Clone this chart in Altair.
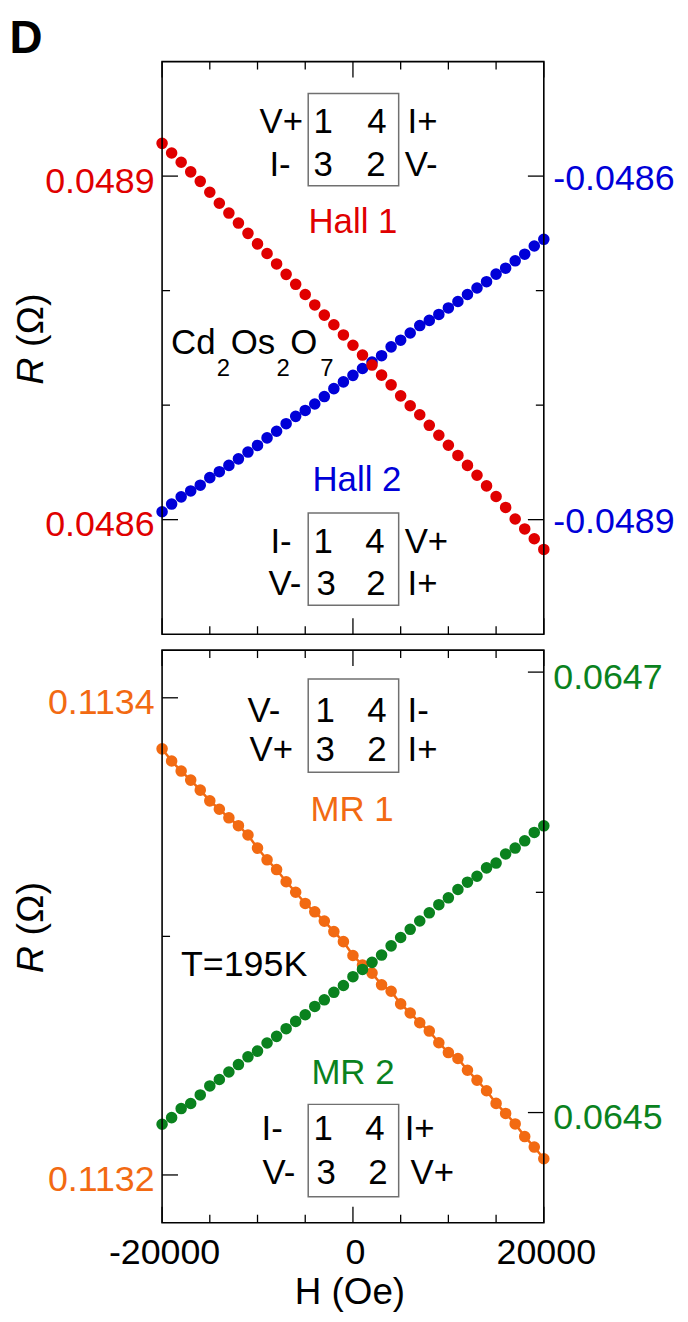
import altair as alt
import pandas as pd

# ---------------- data ----------------
H_OE = [-20000, -19000, -18000, -17000, -16000, -15000, -14000, -13000, -12000, -11000,
        -10000, -9000, -8000, -7000, -6000, -5000, -4000, -3000, -2000, -1000,
        0, 1000, 2000, 3000, 4000, 5000, 6000, 7000, 8000, 9000,
        10000, 11000, 12000, 13000, 14000, 15000, 16000, 17000, 18000, 19000, 20000]

HALL1 = [0.0489286, 0.0489202, 0.0489121, 0.0489037, 0.0488954, 0.0488859, 0.0488763,
         0.0488677, 0.0488590, 0.0488500, 0.0488408, 0.0488324, 0.0488233, 0.0488142,
         0.0488055, 0.0487966, 0.0487875, 0.0487786, 0.0487702, 0.0487613, 0.0487523,
         0.0487437, 0.0487350, 0.0487262, 0.0487177, 0.0487081, 0.0486995, 0.0486916,
         0.0486824, 0.0486737, 0.0486650, 0.0486561, 0.0486474, 0.0486388, 0.0486295,
         0.0486202, 0.0486107, 0.0486006, 0.0485919, 0.0485833, 0.0485740]

HALL2 = [-0.0488931, -0.0488864, -0.0488801, -0.0488749, -0.0488699, -0.0488633, -0.0488581,
         -0.0488526, -0.0488469, -0.0488410, -0.0488352, -0.0488286, -0.0488228, -0.0488162,
         -0.0488098, -0.0488046, -0.0487990, -0.0487925, -0.0487856, -0.0487797, -0.0487740,
         -0.0487680, -0.0487624, -0.0487568, -0.0487491, -0.0487433, -0.0487370, -0.0487305,
         -0.0487260, -0.0487208, -0.0487151, -0.0487095, -0.0487034, -0.0486977, -0.0486922,
         -0.0486856, -0.0486804, -0.0486740, -0.0486682, -0.0486610, -0.0486552]

MR1 = [0.1133786, 0.1133735, 0.1133693, 0.1133655, 0.1133613, 0.1133568, 0.1133533,
       0.1133497, 0.1133464, 0.1133425, 0.1133370, 0.1133321, 0.1133280, 0.1133229,
       0.1133185, 0.1133138, 0.1133103, 0.1133064, 0.1133020, 0.1132978, 0.1132920,
       0.1132880, 0.1132846, 0.1132797, 0.1132770, 0.1132717, 0.1132679, 0.1132638,
       0.1132603, 0.1132554, 0.1132513, 0.1132488, 0.1132439, 0.1132397, 0.1132353,
       0.1132300, 0.1132258, 0.1132214, 0.1132161, 0.1132117, 0.1132068]

MR2 = [0.0644947, 0.0644977, 0.0645018, 0.0645041, 0.0645080, 0.0645121, 0.0645150,
       0.0645184, 0.0645218, 0.0645253, 0.0645279, 0.0645316, 0.0645346, 0.0645381,
       0.0645414, 0.0645444, 0.0645482, 0.0645512, 0.0645546, 0.0645577, 0.0645617,
       0.0645650, 0.0645682, 0.0645715, 0.0645757, 0.0645795, 0.0645832, 0.0645870,
       0.0645907, 0.0645944, 0.0645975, 0.0646013, 0.0646046, 0.0646073, 0.0646111,
       0.0646133, 0.0646174, 0.0646201, 0.0646234, 0.0646272, 0.0646302]

SERIES_NAMES = ["Hall 1", "Hall 2", "MR 1", "MR 2"]
X_DOMAIN = [-20000, 20000]
X_MAJOR = [-20000, 0, 20000]
X_MINOR = [-15000, -10000, -5000, 5000, 10000, 15000]

HALL1_DOMAIN = [0.0485, 0.0490]
HALL1_MAJOR = [0.0486, 0.0489]
HALL1_MINOR = [0.0487, 0.0488]
HALL2_DOMAIN = [-0.0490, -0.0485]
HALL2_MAJOR = [-0.0489, -0.0486]
HALL2_MINOR = [-0.0488, -0.0487]
MR1_DOMAIN = [0.11318, 0.11342]
MR1_MAJOR = [0.1132, 0.1134]
MR1_MINOR = [0.1133]
MR2_DOMAIN = [0.06445, 0.06471]
MR2_MAJOR = [0.0645, 0.0647]
MR2_MINOR = [0.0646]

HALL1_BOX = [["V+", "1", "4", "I+"], ["I-", "3", "2", "V-"]]
HALL2_BOX = [["I-", "1", "4", "V+"], ["V-", "3", "2", "I+"]]
MR1_BOX = [["V-", "1", "4", "I-"], ["V+", "3", "2", "I+"]]
MR2_BOX = [["I-", "1", "4", "I+"], ["V-", "3", "2", "V+"]]

FORMULA = [("Cd", False), ("2", True), ("Os", False), ("2", True), ("O", False), ("7", True)]
TEMP_LABEL = "T=195K"
PANEL_LETTER = "D"
Y_TITLE = ("R", "(Ω)")
X_TITLE = "H (Oe)"

assert all(len(s) == len(H_OE) for s in (HALL1, HALL2, MR1, MR2))

# ---------------- styles / layout ----------------
RED = "#e00000"
BLUE = "#0000d8"
ORANGE = "#f26a12"
GREEN = "#0a821e"
FONT = "Liberation Sans"
W, HT = 384, 576
DOT = 135
BOX_FONT = 35
TICK_MAJ, TICK_MIN = 16, 8
MINUS = "\u2212"


def x_enc(show):
    if show:
        ax = alt.Axis(values=X_MAJOR, format="d",
                      labelExpr=f"replace(datum.label, '{MINUS}', '-')",
                      ticks=False, tickSize=0, domain=False, grid=False,
                      labelFontSize=36, labelFont=FONT, labelColor="black",
                      labelPadding=13, labelOffset=2, labelFlush=False,
                      labelOverlap=False, title=None)
    else:
        ax = None
    return alt.X("H:Q", scale=alt.Scale(domain=X_DOMAIN, nice=False, zero=False), axis=ax)


def y_enc(domain, orient, major, color, pad, offset):
    ax = alt.Axis(orient=orient, values=major, format=".4f",
                  labelExpr=f"replace(datum.label, '{MINUS}', '-')",
                  ticks=False, tickSize=0, domain=False, grid=False,
                  labelFontSize=36, labelFont=FONT, labelColor=color,
                  labelPadding=pad, labelOffset=offset, labelFlush=False,
                  labelOverlap=False, title=None)
    return alt.Y("R:Q", scale=alt.Scale(domain=domain, nice=False, zero=False), axis=ax)


def side(values, color, domain, major, minor, orient, xe, offset, with_line=False):
    ye = y_enc(domain, orient, major, color, 8 if orient == "left" else 9, offset)
    df = pd.DataFrame({"H": H_OE, "R": values})
    layers = []
    if with_line:
        layers.append(alt.Chart(df).mark_line(color=color, strokeWidth=2.5).encode(x=xe, y=ye))
    layers.append(alt.Chart(df).mark_circle(size=DOT, opacity=1, color=color).encode(x=xe, y=ye))
    for vals, ln in ((major, TICK_MAJ), (minor, TICK_MIN)):
        if orient == "left":
            x0, x1 = 0, ln
        else:
            x0, x1 = W - ln, W
        layers.append(alt.Chart(pd.DataFrame({"R": vals})).mark_rule(color="black", strokeWidth=1.3)
                      .encode(y=ye, x=alt.value(x0), x2=alt.value(x1)))
    return alt.layer(*layers)


def xticks(xe):
    layers = []
    for vals, ln in ((X_MAJOR, TICK_MAJ), (X_MINOR, TICK_MIN)):
        d = pd.DataFrame({"H": vals})
        layers.append(alt.Chart(d).mark_rule(color="black", strokeWidth=1.3)
                      .encode(x=xe, y=alt.value(0), y2=alt.value(ln)))
        layers.append(alt.Chart(d).mark_rule(color="black", strokeWidth=1.3)
                      .encode(x=xe, y=alt.value(HT), y2=alt.value(HT - ln)))
    return layers


def txt(label, x, y, size, color="black", align="left", style="normal",
        weight="normal", angle=0, opacity=1):
    return (alt.Chart(pd.DataFrame({"label": [label]}))
            .mark_text(x=x, y=y, fontSize=size, color=color, align=align,
                       baseline="alphabetic", font=FONT, fontStyle=style,
                       fontWeight=weight, angle=angle, opacity=opacity)
            .encode(text="label:N"))


def box(labels, rect, rows, cols):
    x1, x2, y1, y2 = rect
    out = [alt.Chart(pd.DataFrame({"k": [0]})).mark_rect(fillOpacity=0, stroke="#707070", strokeWidth=1.5)
           .encode(x=alt.value(x1), x2=alt.value(x2), y=alt.value(y1), y2=alt.value(y2))]
    for r in range(2):
        for c in range(4):
            align = "center" if c in (1, 2) else "left"
            out.append(txt(labels[r][c], cols[c][r], rows[r], BOX_FONT, align=align))
    return out


def frame():
    return alt.Chart(pd.DataFrame({"k": [0]})).mark_rect(fillOpacity=0, stroke="black", strokeWidth=1.6) \
        .encode(x=alt.value(0), x2=alt.value(W), y=alt.value(0), y2=alt.value(HT))


def y_title():
    return [txt(Y_TITLE[0], -120, 325, 38, style="italic", angle=270),
            txt(Y_TITLE[1], -120, 287, 38, angle=270)]


# ---------------- top panel ----------------
xe_top = x_enc(False)
top_layers = [
    side(HALL2, BLUE, HALL2_DOMAIN, HALL2_MAJOR, HALL2_MINOR, "right", xe_top, 2),
    side(HALL1, RED, HALL1_DOMAIN, HALL1_MAJOR, HALL1_MINOR, "left", xe_top, 5),
]
top_layers += xticks(xe_top)
top_layers.append(frame())
top_layers += box(HALL1_BOX, (147, 238, 32, 125), (72, 115),
                  [(98, 108), (162, 162), (216, 215), (247, 244)])
top_layers += box(HALL2_BOX, (147, 238, 454, 547), (494, 537),
                  [(109, 107), (162, 165), (214, 215), (244, 247)])
top_layers.append(txt(SERIES_NAMES[0], 192, 172, 35, color=RED, align="center"))
top_layers.append(txt(SERIES_NAMES[1], 196, 432, 35, color=BLUE, align="center"))
fx = [9, 55, 69, 115, 129, 159]
for (s, sub), xx in zip(FORMULA, fx):
    top_layers.append(txt(s, xx, 316 if sub else 294, 24 if sub else 35))
top_layers.append(txt(PANEL_LETTER, -153.5, -9, 46, weight="bold"))
top_layers += y_title()

top = alt.layer(*top_layers).resolve_scale(y="independent").properties(width=W, height=HT)

# ---------------- bottom panel ----------------
xe_bot = x_enc(True)
bot_layers = [
    side(MR1, ORANGE, MR1_DOMAIN, MR1_MAJOR, MR1_MINOR, "left", xe_bot, 5, with_line=True),
    side(MR2, GREEN, MR2_DOMAIN, MR2_MAJOR, MR2_MINOR, "right", xe_bot, 5),
]
bot_layers += xticks(xe_bot)
bot_layers.append(frame())
bot_layers += box(MR1_BOX, (147, 238, 29, 123), (72, 112),
                  [(86, 88), (164, 164), (216, 216), (247, 247)])
bot_layers += box(MR2_BOX, (147, 238, 457, 550), (493, 537),
                  [(100, 101), (162, 165), (214, 217), (244, 250)])
bot_layers.append(txt(SERIES_NAMES[2], 191, 172, 35, color=ORANGE, align="center"))
bot_layers.append(txt(SERIES_NAMES[3], 192, 436, 35, color=GREEN, align="center"))
bot_layers.append(txt(TEMP_LABEL, 19, 328, 36))
bot_layers.append(txt(X_TITLE, 189, 658, 37, align="center"))
bot_layers.append(txt(PANEL_LETTER, -153.5, 300, 46, weight="bold", opacity=0))
bot_layers += y_title()

bottom = alt.layer(*bot_layers).resolve_scale(y="independent").properties(width=W, height=HT)

chart = (alt.vconcat(top, bottom, spacing=16, bounds="flush")
         .properties(padding={"left": 1, "top": 4, "right": 5, "bottom": 5})
         .configure_view(strokeWidth=0))

chart.save("out.html", embed_options={"renderer": "svg", "actions": False})
